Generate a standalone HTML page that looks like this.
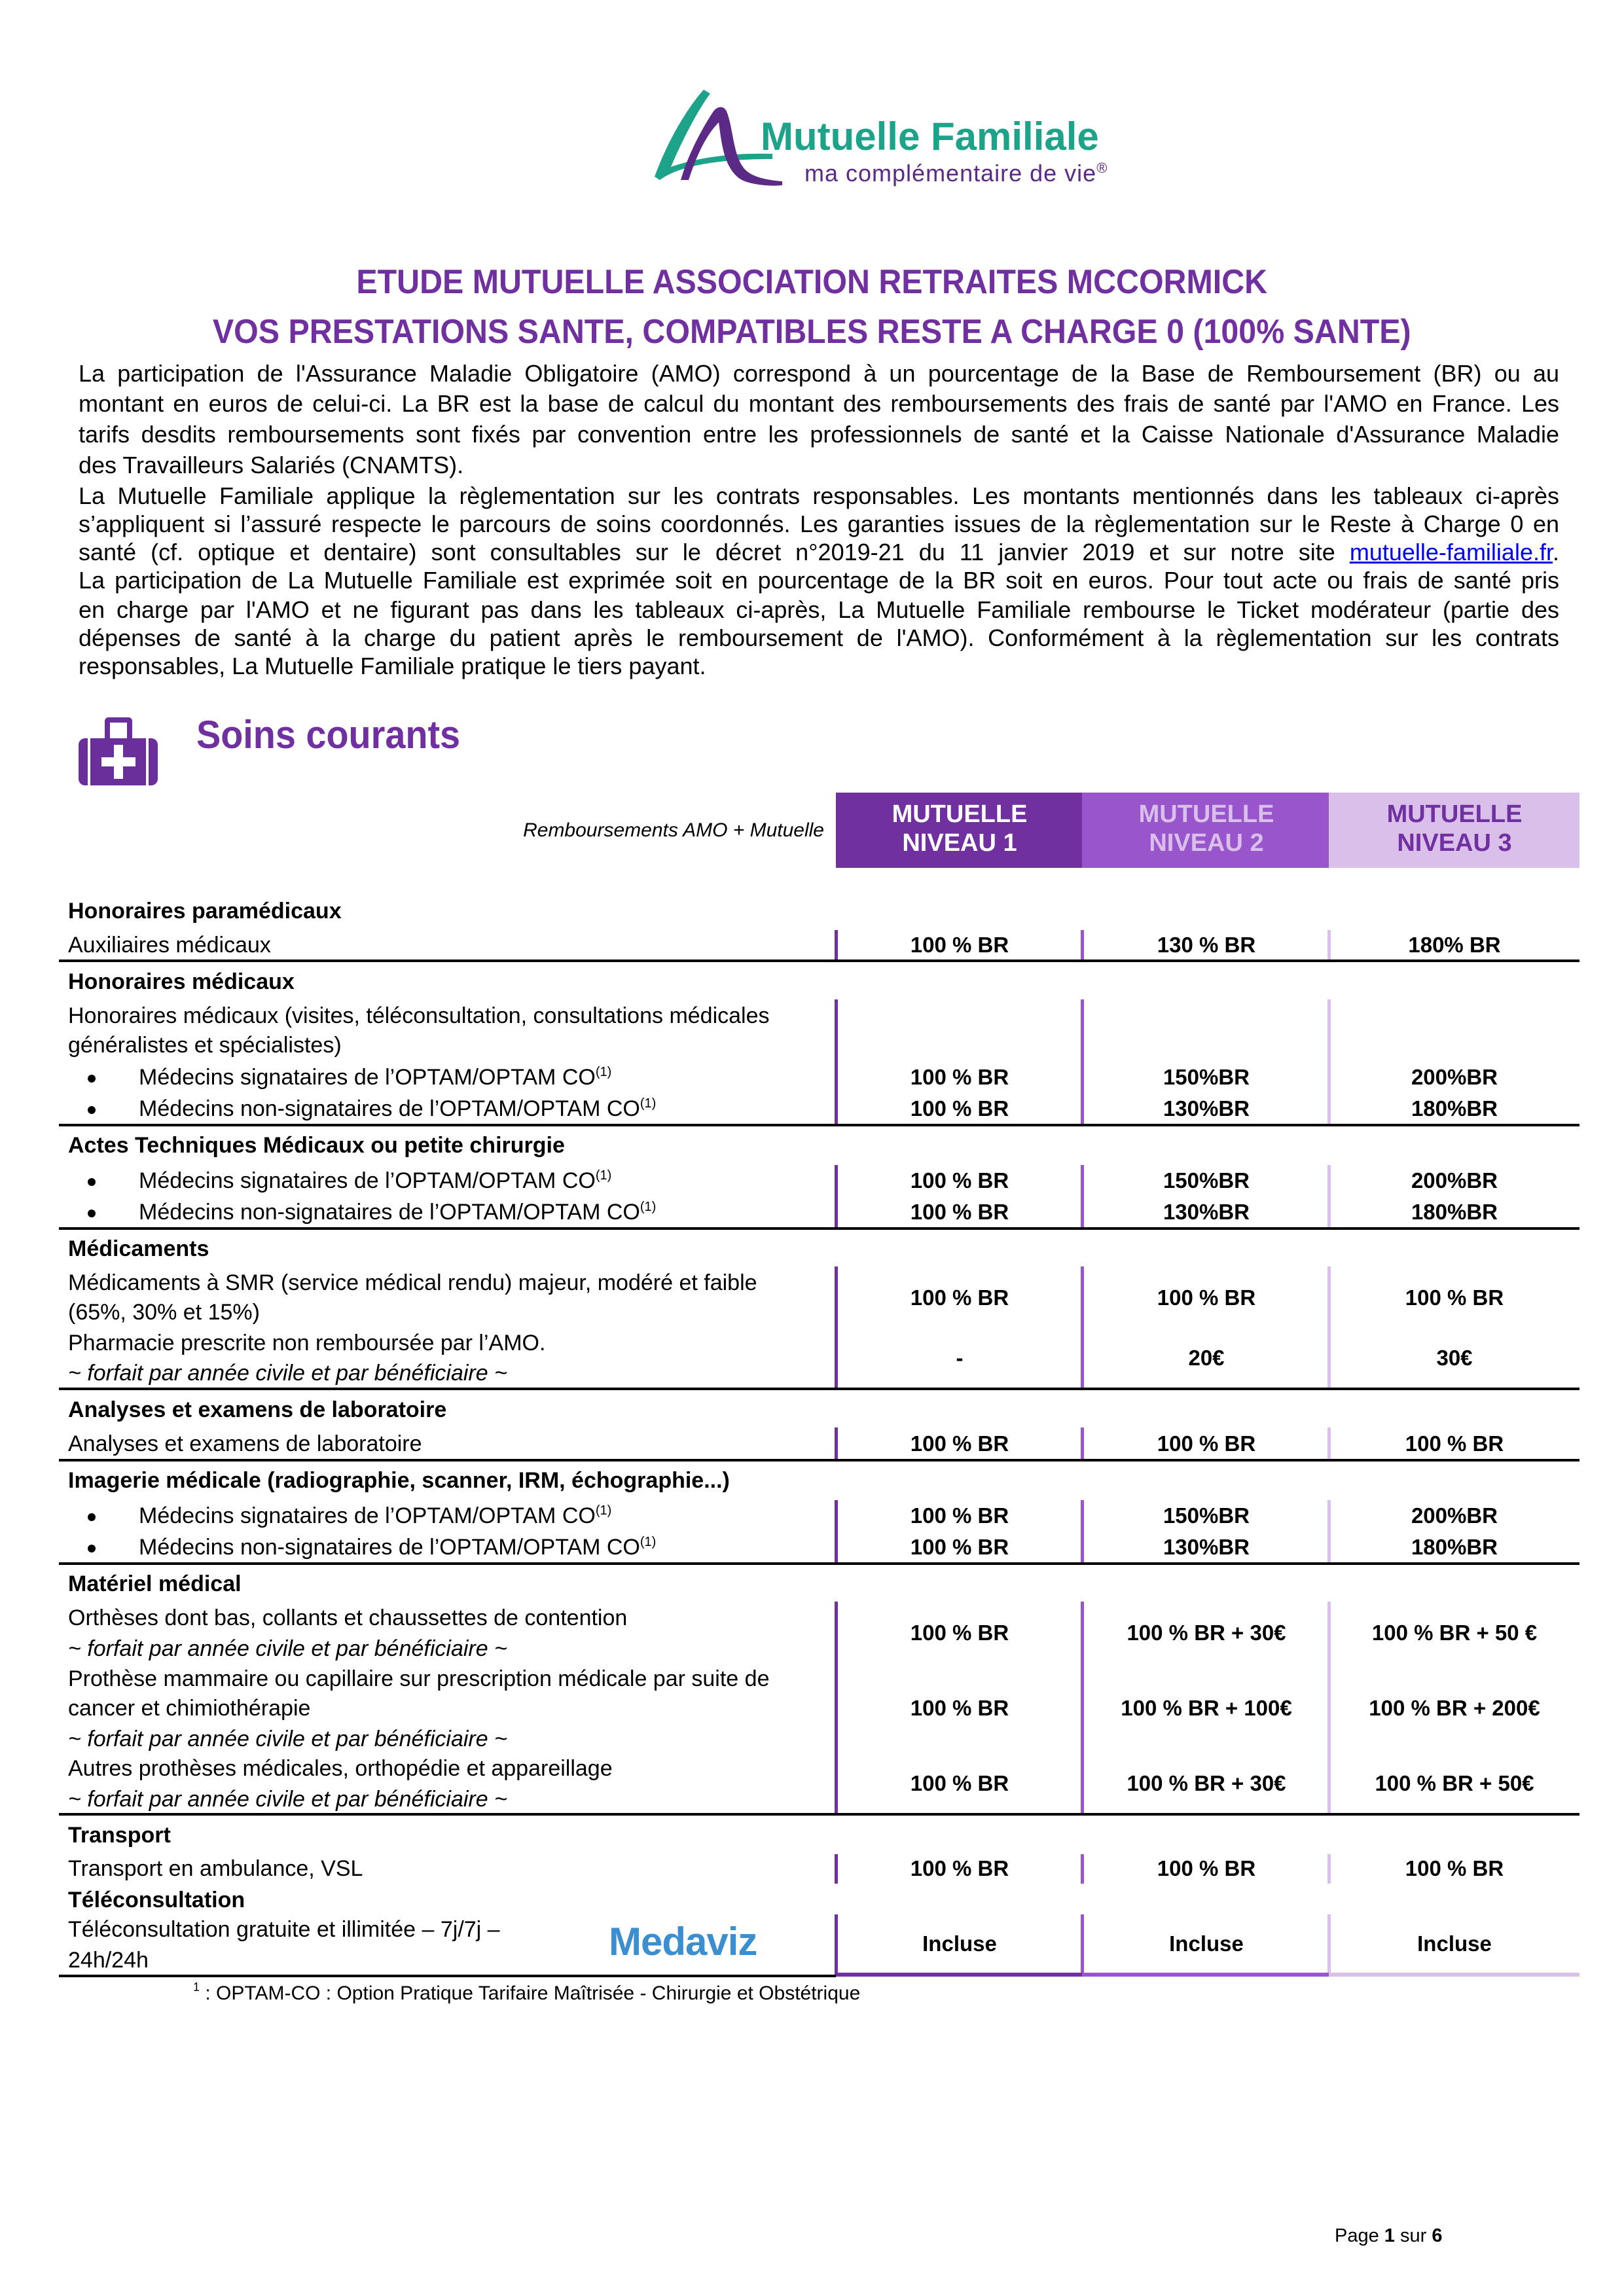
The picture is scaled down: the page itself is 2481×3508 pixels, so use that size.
<!DOCTYPE html>
<html><head><meta charset="utf-8"><style>
html,body{margin:0;padding:0;background:#fff}
body{width:2481px;height:3508px;position:relative;overflow:hidden;font-family:"Liberation Sans",Arial,sans-serif;color:#000}
.a{position:absolute;white-space:nowrap;line-height:36px;font-size:34px}
.b{font-weight:bold}
.i{font-style:italic}
.v{position:absolute;width:360px;text-align:center;font-weight:bold;font-size:33px;line-height:36px;white-space:nowrap}
.h{position:absolute;left:90px;width:2323px;height:4px;background:#000}
.vb{position:absolute;width:5px}
.c1{background:#7030a0}.c2{background:#9955cc}.c3{background:#d9bfe9}
.p{position:absolute;left:120px;width:2262px;font-size:36px;line-height:45px;white-space:nowrap;text-align:justify;text-align-last:justify}
.pl{text-align-last:left}
sup{font-size:20px;line-height:0;vertical-align:13px}
.dot{position:absolute;left:134px;width:12px;height:12px;border-radius:50%;background:#000}
</style></head><body>

<!-- Logo -->
<svg style="position:absolute;left:980px;top:125px" width="260" height="170" viewBox="0 0 260 170">
<path d="M95 12 C70 40 40 90 20 145 L28 150 C55 130 110 118 200 118 L200 110 C130 108 80 118 45 130 C62 90 85 45 105 18 Z" fill="#1ca38a"/>
<path d="M110 45 C90 75 70 115 60 150 L72 150 C85 110 100 80 118 62 C122 90 125 130 150 148 C165 158 200 160 215 158 L215 152 C190 150 165 145 155 130 C140 110 140 70 130 45 C125 35 115 38 110 45 Z" fill="#5b2a86"/>
</svg>
<div class="a b" style="left:1162px;top:176px;font-size:60px;line-height:66px;color:#1ca38a">Mutuelle Familiale</div>
<div class="a" style="left:1229px;top:244px;font-size:36px;line-height:42px;color:#5b2a86;letter-spacing:1px">ma complémentaire de vie<sup style="font-size:22px">®</sup></div>

<!-- Titles -->
<div style="position:absolute;left:0;width:2481px;top:400px;text-align:center;color:#7030a0;font-weight:bold;font-size:52px;line-height:62px;white-space:nowrap"><span style="display:inline-block;transform:scaleX(0.93)">ETUDE MUTUELLE ASSOCIATION RETRAITES MCCORMICK</span></div>
<div style="position:absolute;left:0;width:2481px;top:476px;text-align:center;color:#7030a0;font-weight:bold;font-size:52px;line-height:62px;white-space:nowrap"><span style="display:inline-block;transform:scaleX(0.93)">VOS PRESTATIONS SANTE, COMPATIBLES RESTE A CHARGE 0 (100% SANTE)</span></div>

<!-- Intro -->
<div class="p" style="top:548px">La participation de l'Assurance Maladie Obligatoire (AMO) correspond à un pourcentage de la Base de Remboursement (BR) ou au</div>
<div class="p" style="top:594px">montant en euros de celui-ci. La BR est la base de calcul du montant des remboursements des frais de santé par l'AMO en France. Les</div>
<div class="p" style="top:641px">tarifs desdits remboursements sont fixés par convention entre les professionnels de santé et la Caisse Nationale d'Assurance Maladie</div>
<div class="p pl" style="top:688px">des Travailleurs Salariés (CNAMTS).</div>
<div class="p" style="top:735px">La Mutuelle Familiale applique la règlementation sur les contrats responsables. Les montants mentionnés dans les tableaux ci-après</div>
<div class="p" style="top:778px">s’appliquent si l’assuré respecte le parcours de soins coordonnés. Les garanties issues de la règlementation sur le Reste à Charge 0 en</div>
<div class="p" style="top:821px">santé (cf. optique et dentaire) sont consultables sur le décret n°2019-21 du 11 janvier 2019 et sur notre site <span style="color:#0000ee;text-decoration:underline">mutuelle-familiale.fr</span>.</div>
<div class="p" style="top:864px">La participation de La Mutuelle Familiale est exprimée soit en pourcentage de la BR soit en euros. Pour tout acte ou frais de santé pris</div>
<div class="p" style="top:909px">en charge par l'AMO et ne figurant pas dans les tableaux ci-après, La Mutuelle Familiale rembourse le Ticket modérateur (partie des</div>
<div class="p" style="top:952px">dépenses de santé à la charge du patient après le remboursement de l'AMO). Conformément à la règlementation sur les contrats</div>
<div class="p pl" style="top:995px">responsables, La Mutuelle Familiale pratique le tiers payant.</div>

<!-- Section icon & title -->
<div style="position:absolute;left:160px;top:1096px;width:42px;height:40px;border:8px solid #6a2f9a;border-bottom:none;border-radius:6px 6px 0 0;box-sizing:border-box"></div>
<div style="position:absolute;left:120px;top:1128px;width:121px;height:72px;background:#6a2f9a;border-radius:10px"></div>
<div style="position:absolute;left:134px;top:1128px;width:4px;height:72px;background:#fff"></div>
<div style="position:absolute;left:223px;top:1128px;width:4px;height:72px;background:#fff"></div>
<div style="position:absolute;left:174px;top:1138px;width:14px;height:52px;background:#fff"></div>
<div style="position:absolute;left:155px;top:1157px;width:52px;height:14px;background:#fff"></div>
<div class="a b" style="left:300px;top:1088px;font-size:60px;line-height:70px;color:#7030a0"><span style="display:inline-block;transform:scaleX(0.93);transform-origin:left">Soins courants</span></div>

<!-- Header -->
<div class="a i" style="left:600px;width:659px;text-align:right;top:1251px;font-size:30px">Remboursements AMO + Mutuelle</div>
<div class="c1" style="position:absolute;left:1277px;top:1211px;width:376px;height:115px"></div>
<div class="c2" style="position:absolute;left:1653px;top:1211px;width:377px;height:115px"></div>
<div class="c3" style="position:absolute;left:2030px;top:1211px;width:383px;height:115px"></div>
<div class="v" style="left:1286px;top:1222px;font-size:38px;line-height:44px;color:#fff">MUTUELLE<br>NIVEAU 1</div>
<div class="v" style="left:1663px;top:1222px;font-size:38px;line-height:44px;color:#d9bfe9">MUTUELLE<br>NIVEAU 2</div>
<div class="v" style="left:2042px;top:1222px;font-size:38px;line-height:44px;color:#7030a0">MUTUELLE<br>NIVEAU 3</div>

<!-- Table rows -->
<div class="a b" style="left:104px;top:1374px">Honoraires paramédicaux</div>
<div class="a" style="left:104px;top:1426px">Auxiliaires médicaux</div>
<div class="v" style="left:1286px;top:1426px">100 % BR</div><div class="v" style="left:1663px;top:1426px">130 % BR</div><div class="v" style="left:2042px;top:1426px">180% BR</div>
<div class="vb c1" style="left:1275px;top:1421px;height:47px"></div><div class="vb c2" style="left:1651px;top:1421px;height:47px"></div><div class="vb c3" style="left:2028px;top:1421px;height:47px"></div>
<div class="h" style="top:1466px"></div>

<div class="a b" style="left:104px;top:1482px">Honoraires médicaux</div>
<div class="a" style="left:104px;top:1534px">Honoraires médicaux (visites, téléconsultation, consultations médicales</div>
<div class="a" style="left:104px;top:1579px">généralistes et spécialistes)</div>
<div class="dot" style="top:1642px"></div><div class="a" style="left:212px;top:1628px">Médecins signataires de l’OPTAM/OPTAM CO<sup>(1)</sup></div>
<div class="dot" style="top:1690px"></div><div class="a" style="left:212px;top:1676px">Médecins non-signataires de l’OPTAM/OPTAM CO<sup>(1)</sup></div>
<div class="v" style="left:1286px;top:1628px">100 % BR</div><div class="v" style="left:1663px;top:1628px">150%BR</div><div class="v" style="left:2042px;top:1628px">200%BR</div>
<div class="v" style="left:1286px;top:1676px">100 % BR</div><div class="v" style="left:1663px;top:1676px">130%BR</div><div class="v" style="left:2042px;top:1676px">180%BR</div>
<div class="vb c1" style="left:1275px;top:1527px;height:192px"></div><div class="vb c2" style="left:1651px;top:1527px;height:192px"></div><div class="vb c3" style="left:2028px;top:1527px;height:192px"></div>
<div class="h" style="top:1717px"></div>

<div class="a b" style="left:104px;top:1732px">Actes Techniques Médicaux ou petite chirurgie</div>
<div class="dot" style="top:1800px"></div><div class="a" style="left:212px;top:1786px">Médecins signataires de l’OPTAM/OPTAM CO<sup>(1)</sup></div>
<div class="dot" style="top:1848px"></div><div class="a" style="left:212px;top:1834px">Médecins non-signataires de l’OPTAM/OPTAM CO<sup>(1)</sup></div>
<div class="v" style="left:1286px;top:1786px">100 % BR</div><div class="v" style="left:1663px;top:1786px">150%BR</div><div class="v" style="left:2042px;top:1786px">200%BR</div>
<div class="v" style="left:1286px;top:1834px">100 % BR</div><div class="v" style="left:1663px;top:1834px">130%BR</div><div class="v" style="left:2042px;top:1834px">180%BR</div>
<div class="vb c1" style="left:1275px;top:1780px;height:97px"></div><div class="vb c2" style="left:1651px;top:1780px;height:97px"></div><div class="vb c3" style="left:2028px;top:1780px;height:97px"></div>
<div class="h" style="top:1875px"></div>

<div class="a b" style="left:104px;top:1890px">Médicaments</div>
<div class="a" style="left:104px;top:1942px">Médicaments à SMR (service médical rendu) majeur, modéré et faible</div>
<div class="a" style="left:104px;top:1987px">(65%, 30% et 15%)</div>
<div class="v" style="left:1286px;top:1965px">100 % BR</div><div class="v" style="left:1663px;top:1965px">100 % BR</div><div class="v" style="left:2042px;top:1965px">100 % BR</div>
<div class="a" style="left:104px;top:2034px">Pharmacie prescrite non remboursée par l’AMO.</div>
<div class="a i" style="left:104px;top:2080px">~ forfait par année civile et par bénéficiaire ~</div>
<div class="v" style="left:1286px;top:2057px">-</div><div class="v" style="left:1663px;top:2057px">20€</div><div class="v" style="left:2042px;top:2057px">30€</div>
<div class="vb c1" style="left:1275px;top:1935px;height:187px"></div><div class="vb c2" style="left:1651px;top:1935px;height:187px"></div><div class="vb c3" style="left:2028px;top:1935px;height:187px"></div>
<div class="h" style="top:2120px"></div>

<div class="a b" style="left:104px;top:2136px">Analyses et examens de laboratoire</div>
<div class="a" style="left:104px;top:2188px">Analyses et examens de laboratoire</div>
<div class="v" style="left:1286px;top:2188px">100 % BR</div><div class="v" style="left:1663px;top:2188px">100 % BR</div><div class="v" style="left:2042px;top:2188px">100 % BR</div>
<div class="vb c1" style="left:1275px;top:2181px;height:50px"></div><div class="vb c2" style="left:1651px;top:2181px;height:50px"></div><div class="vb c3" style="left:2028px;top:2181px;height:50px"></div>
<div class="h" style="top:2229px"></div>

<div class="a b" style="left:104px;top:2244px">Imagerie médicale (radiographie, scanner, IRM, échographie...)</div>
<div class="dot" style="top:2312px"></div><div class="a" style="left:212px;top:2298px">Médecins signataires de l’OPTAM/OPTAM CO<sup>(1)</sup></div>
<div class="dot" style="top:2360px"></div><div class="a" style="left:212px;top:2346px">Médecins non-signataires de l’OPTAM/OPTAM CO<sup>(1)</sup></div>
<div class="v" style="left:1286px;top:2298px">100 % BR</div><div class="v" style="left:1663px;top:2298px">150%BR</div><div class="v" style="left:2042px;top:2298px">200%BR</div>
<div class="v" style="left:1286px;top:2346px">100 % BR</div><div class="v" style="left:1663px;top:2346px">130%BR</div><div class="v" style="left:2042px;top:2346px">180%BR</div>
<div class="vb c1" style="left:1275px;top:2292px;height:97px"></div><div class="vb c2" style="left:1651px;top:2292px;height:97px"></div><div class="vb c3" style="left:2028px;top:2292px;height:97px"></div>
<div class="h" style="top:2387px"></div>

<div class="a b" style="left:104px;top:2402px">Matériel médical</div>
<div class="a" style="left:104px;top:2454px">Orthèses dont bas, collants et chaussettes de contention</div>
<div class="a i" style="left:104px;top:2501px">~ forfait par année civile et par bénéficiaire ~</div>
<div class="v" style="left:1286px;top:2477px">100 % BR</div><div class="v" style="left:1663px;top:2477px">100 % BR + 30€</div><div class="v" style="left:2042px;top:2477px">100 % BR + 50 €</div>
<div class="a" style="left:104px;top:2547px">Prothèse mammaire ou capillaire sur prescription médicale par suite de</div>
<div class="a" style="left:104px;top:2592px">cancer et chimiothérapie</div>
<div class="a i" style="left:104px;top:2639px">~ forfait par année civile et par bénéficiaire ~</div>
<div class="v" style="left:1286px;top:2592px">100 % BR</div><div class="v" style="left:1663px;top:2592px">100 % BR + 100€</div><div class="v" style="left:2042px;top:2592px">100 % BR + 200€</div>
<div class="a" style="left:104px;top:2684px">Autres prothèses médicales, orthopédie et appareillage</div>
<div class="a i" style="left:104px;top:2731px">~ forfait par année civile et par bénéficiaire ~</div>
<div class="v" style="left:1286px;top:2707px">100 % BR</div><div class="v" style="left:1663px;top:2707px">100 % BR + 30€</div><div class="v" style="left:2042px;top:2707px">100 % BR + 50€</div>
<div class="vb c1" style="left:1275px;top:2447px;height:325px"></div><div class="vb c2" style="left:1651px;top:2447px;height:325px"></div><div class="vb c3" style="left:2028px;top:2447px;height:325px"></div>
<div class="h" style="top:2770px"></div>

<div class="a b" style="left:104px;top:2786px">Transport</div>
<div class="a" style="left:104px;top:2837px">Transport en ambulance, VSL</div>
<div class="v" style="left:1286px;top:2837px">100 % BR</div><div class="v" style="left:1663px;top:2837px">100 % BR</div><div class="v" style="left:2042px;top:2837px">100 % BR</div>
<div class="vb c1" style="left:1275px;top:2833px;height:45px"></div><div class="vb c2" style="left:1651px;top:2833px;height:45px"></div><div class="vb c3" style="left:2028px;top:2833px;height:45px"></div>

<div class="a b" style="left:104px;top:2885px">Téléconsultation</div>
<div class="a" style="left:104px;top:2930px">Téléconsultation gratuite et illimitée – 7j/7j –</div>
<div class="a" style="left:104px;top:2977px">24h/24h</div>
<div class="a b" style="left:930px;top:2937px;font-size:60px;line-height:60px;color:#3b8fd0;letter-spacing:-1px">Medaviz</div>
<div class="v" style="left:1286px;top:2952px">Incluse</div><div class="v" style="left:1663px;top:2952px">Incluse</div><div class="v" style="left:2042px;top:2952px">Incluse</div>
<div class="vb c1" style="left:1275px;top:2925px;height:95px"></div><div class="vb c2" style="left:1651px;top:2925px;height:95px"></div><div class="vb c3" style="left:2028px;top:2925px;height:95px"></div>
<div style="position:absolute;left:90px;top:3017px;width:1187px;height:4px;background:#000"></div>
<div class="c1" style="position:absolute;left:1277px;top:3014px;width:376px;height:6px"></div>
<div class="c2" style="position:absolute;left:1653px;top:3014px;width:377px;height:6px"></div>
<div class="c3" style="position:absolute;left:2030px;top:3014px;width:383px;height:6px"></div>

<div class="a" style="left:295px;top:3028px;font-size:30px"><sup style="font-size:18px">1</sup> : OPTAM-CO : Option Pratique Tarifaire Maîtrisée - Chirurgie et Obstétrique</div>

<div class="a" style="left:2039px;top:3398px;font-size:29px">Page <b>1</b> sur <b>6</b></div>
</body></html>
